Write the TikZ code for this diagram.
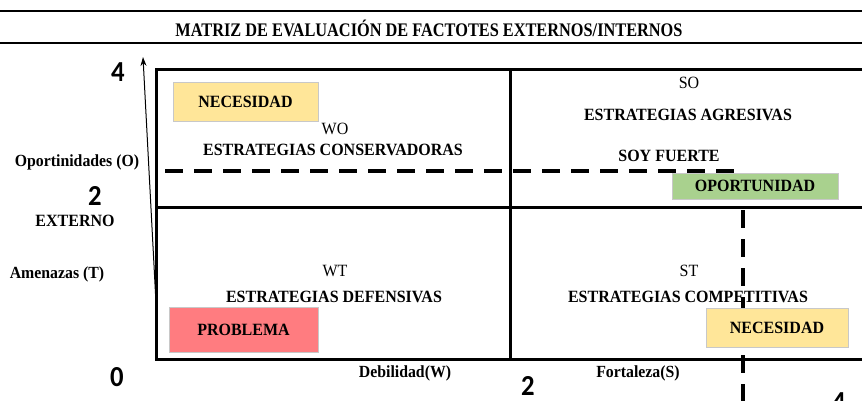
\documentclass[tikz,border=0pt]{standalone}
\usepackage{fontspec}
\setmainfont{Liberation Serif}
\newfontfamily\titlefont[FakeStretch=0.85]{Liberation Serif}
\newfontfamily\condfont[FakeStretch=0.93]{Liberation Serif}
\newfontfamily\numfont[FakeStretch=0.92]{Carlito}
\usetikzlibrary{arrows.meta}
\definecolor{yelbox}{HTML}{FFE699}
\definecolor{grnbox}{HTML}{A9D18E}
\definecolor{redbox}{HTML}{FF7C80}
\definecolor{boxedge}{HTML}{C8C8C8}
\tikzset{
  bold16/.style={font=\fontsize{17.2}{19}\selectfont\condfont\bfseries, inner sep=0pt},
  reg16/.style={font=\fontsize{17.2}{19}\selectfont\condfont, inner sep=0pt},
  axlbl/.style={font=\fontsize{17}{19}\selectfont\condfont\bfseries, inner sep=0pt},
  numlbl/.style={font=\fontsize{29}{31}\selectfont\numfont\bfseries, inner sep=0pt},
  titlelbl/.style={font=\fontsize{19.2}{21}\selectfont\titlefont\bfseries, inner sep=0pt},
  tagbox/.style={draw=boxedge, line width=0.9pt, inner sep=0pt, font=\fontsize{17.2}{19}\selectfont\condfont\bfseries},
  frame/.style={line width=3pt, line cap=rect},
  rule/.style={line width=2.2pt},
  dashline/.style={line width=3.5pt, dash pattern=on 18pt off 11pt},
  axis/.style={line width=1pt, -{Stealth[length=9pt,width=6pt]}}
}
\begin{document}
\begin{tikzpicture}[x=1pt,y=-1pt]
\useasboundingbox (0,0) rectangle (862,401);
% title rules
\coordinate (r1a) at (0,11); \coordinate (r1b) at (862,11);
\coordinate (r2a) at (0,43); \coordinate (r2b) at (862,43);
\draw[rule] (r1a) -- (r1b);
\draw[rule] (r2a) -- (r2b);
\node[titlelbl] (title) at (429,28) {MATRIZ DE EVALUACIÓN DE FACTOTES EXTERNOS/INTERNOS};
% frame
\coordinate (tl) at (156,70); \coordinate (tr) at (866,70);
\coordinate (bl) at (156,359); \coordinate (br) at (866,359);
\coordinate (ml) at (156,207); \coordinate (mr) at (866,207);
\coordinate (vt) at (510,70); \coordinate (vb) at (510,359);
\draw[frame] (tr) -- (tl) -- (bl) -- (br);
\draw[frame] (ml) -- (mr);
\draw[frame] (vt) -- (vb);
% axis
\coordinate (axb) at (157,322); \coordinate (axt) at (143,57);
\draw[axis] (axb) -- (axt);
% dashed lines
\coordinate (dh1) at (165,171); \coordinate (dh2) at (735,171);
\coordinate (dv1) at (743,210); \coordinate (dv2) at (743,405);
\draw[dashline] (dh1) -- (dh2);
\draw[dashline] (dv1) -- (dv2);
% axis labels
\node[numlbl] (n4l) at (118,72) {4};
\node[numlbl] (n2l) at (95,196) {2};
\node[numlbl] (n0) at (117,377) {0};
\node[numlbl] (n2b) at (528,386) {2};
\node[numlbl] (n4b) at (839,402) {4};
\node[axlbl] (opo) at (77,162) {Oportinidades (O)};
\node[bold16] (ext) at (75,221) {EXTERNO};
\node[axlbl] (ame) at (57,274) {Amenazas (T)};
\node[axlbl] (deb) at (405,373) {Debilidad(W)};
\node[axlbl] (fort) at (638,373) {Fortaleza(S)};
% quadrant texts
\node[reg16] (wo) at (335,129) {WO};
\node[bold16] (woq) at (333,150) {ESTRATEGIAS CONSERVADORAS};
\node[reg16] (so) at (689,83) {SO};
\node[bold16] (soq) at (688,115) {ESTRATEGIAS AGRESIVAS};
\node[bold16] (soy) at (669,156) {SOY FUERTE};
\node[reg16] (wt) at (335,271) {WT};
\node[bold16] (wtq) at (334,297) {ESTRATEGIAS DEFENSIVAS};
\node[reg16] (st) at (689,271) {ST};
\node[bold16] (stq) at (688,297) {ESTRATEGIAS COMPETITIVAS};
% coloured tags
\node[tagbox, fill=yelbox, minimum width=145pt, minimum height=39pt] (nec1) at (245.5,101.5) {NECESIDAD};
\node[tagbox, fill=grnbox, minimum width=166pt, minimum height=26pt] (opor) at (755,186) {OPORTUNIDAD};
\node[tagbox, fill=redbox, minimum width=149pt, minimum height=45pt] (prob) at (243.5,329.5) {PROBLEMA};
\node[tagbox, fill=yelbox, minimum width=142pt, minimum height=39pt] (nec2) at (777,327.5) {NECESIDAD};
\end{tikzpicture}
\end{document}
